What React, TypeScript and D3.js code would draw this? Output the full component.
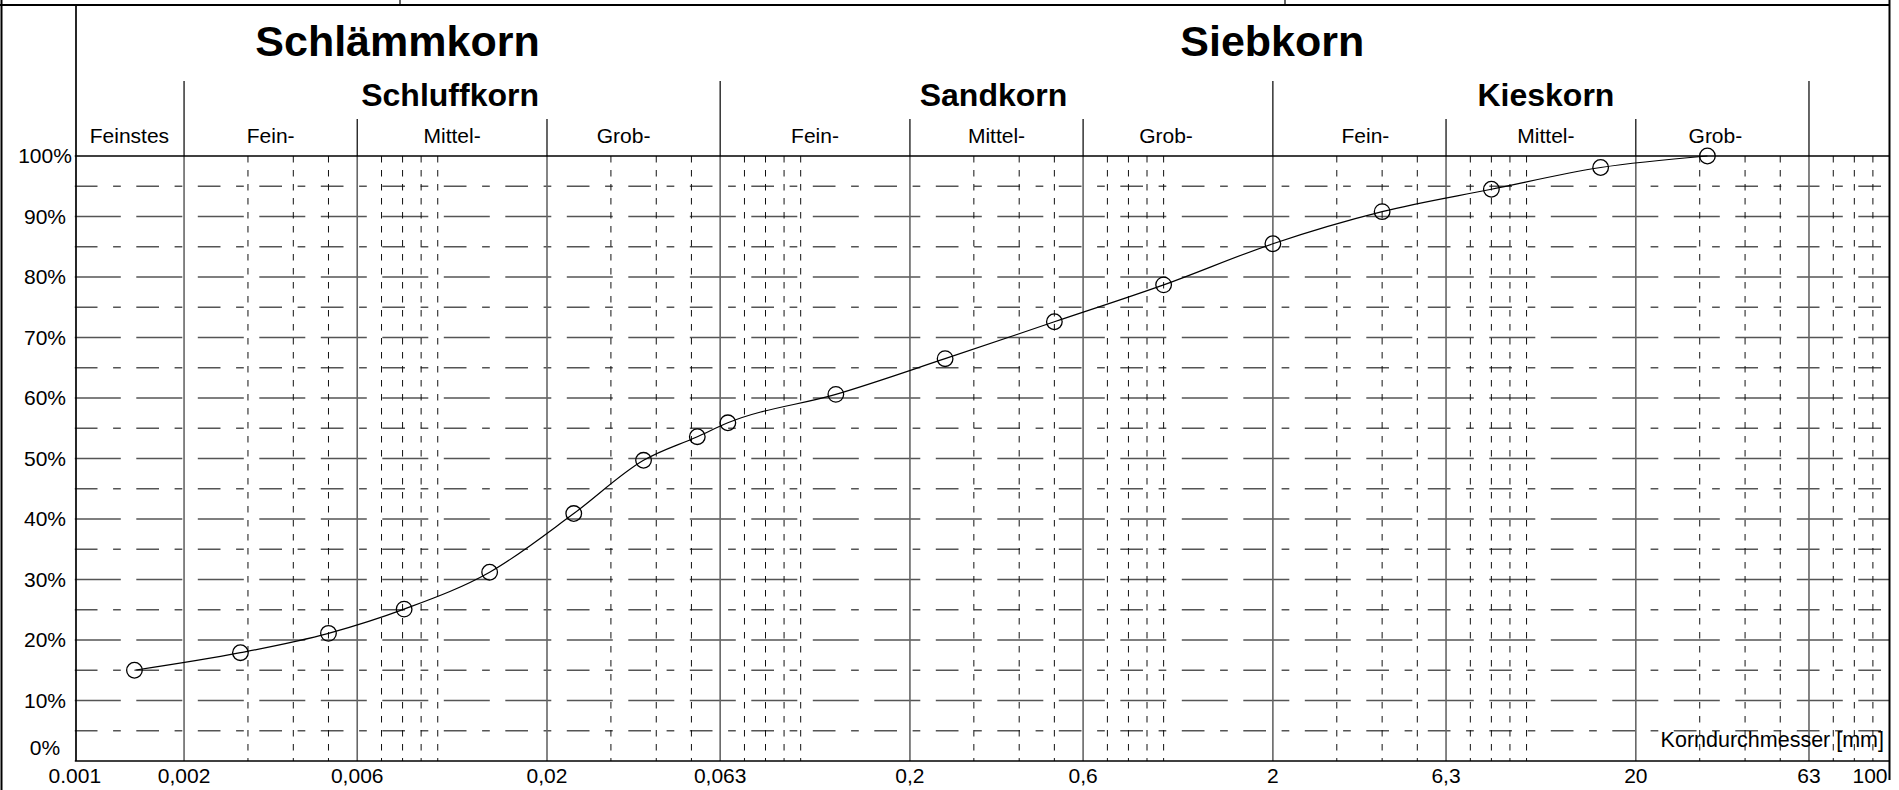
import React from "react";
import * as d3 from "d3";

// ---- data ----
const grainSize = [0.00146, 0.00286, 0.005, 0.00808, 0.0139, 0.0237, 0.0369, 0.0519, 0.063, 0.125, 0.25, 0.5, 1, 2, 4, 8, 16, 31.5];
const passing = [15.0, 17.9, 21.1, 25.1, 31.2, 40.9, 49.7, 53.6, 55.9, 60.6, 66.5, 72.6, 78.7, 85.5, 90.8, 94.5, 98.1, 100];

const xTickValues = [0.001, 0.002, 0.006, 0.02, 0.06, 0.2, 0.6, 2, 6, 20, 60, 100];
const xTickLabels = ["0.001", "0,002", "0,006", "0,02", "0,063", "0,2", "0,6", "2", "6,3", "20", "63", "100"];
const xMajorLines = [0.002, 0.006, 0.02, 0.06, 0.2, 0.6, 2, 6, 20, 60];
const minorDecades = [0.001, 0.01, 0.1, 1, 10];
const minorMultipliers = [3, 4, 5, 7, 8, 9, 10];

const yMajor = [10, 20, 30, 40, 50, 60, 70, 80, 90];
const yHalf = [5, 15, 25, 35, 45, 55, 65, 75, 85, 95];
const yLabelValues = [0, 10, 20, 30, 40, 50, 60, 70, 80, 90, 100];

const level1 = [
  { label: "Schlämmkorn", from: 0.001, to: 0.06 },
  { label: "Siebkorn", from: 0.063, to: 63 },
];
const level2 = [
  { label: "Schluffkorn", from: 0.002, to: 0.06 },
  { label: "Sandkorn", from: 0.06, to: 2 },
  { label: "Kieskorn", from: 2, to: 60 },
];
const level2Dividers = [0.002, 0.06, 2, 60];
const level3 = [
  { label: "Feinstes", from: 0.001, to: 0.002 },
  { label: "Fein-", from: 0.002, to: 0.006 },
  { label: "Mittel-", from: 0.006, to: 0.02 },
  { label: "Grob-", from: 0.02, to: 0.06 },
  { label: "Fein-", from: 0.06, to: 0.2 },
  { label: "Mittel-", from: 0.2, to: 0.6 },
  { label: "Grob-", from: 0.6, to: 2 },
  { label: "Fein-", from: 2, to: 6 },
  { label: "Mittel-", from: 6, to: 20 },
  { label: "Grob-", from: 20, to: 60 },
];
const level3Dividers = [0.006, 0.02, 0.2, 0.6, 6, 20];
const xAxisTitle = "Korndurchmesser [mm]";

// ---- layout ----
const W = 1899;
const H = 790;
const L = 74.8;
const R = 1889.5;
const TOP = 5;
const Y100 = 156;
const Y0 = 761;
const FONT = "'Liberation Sans', Arial, Helvetica, sans-serif";
// small horizontal nudges of the header rows (px)
const level3Nudge = [0, 0, 0, -10, 0, 0, -12, 6, 5, -7];
const level2Nudge = [-2, -3, 5];

export default function App() {
  const x = d3.scaleLog().domain([0.001, 100]).range([L, R]);
  const y = d3.scaleLinear().domain([0, 100]).range([Y0, Y100]);

  const minor: number[] = [];
  minorDecades.forEach((d) =>
    minorMultipliers.forEach((m) => {
      const v = +(d * m).toPrecision(6);
      if (v < 100) minor.push(v);
    })
  );

  const pts: [number, number][] = grainSize.map((g, i) => [x(g), y(passing[i])]);
  const line = d3.line().curve(d3.curveMonotoneX)(pts) || "";

  const cx = (a: number, b: number) => (x(a) + x(b)) / 2;

  return (
    <svg
      width={W}
      height={H}
      style={{ position: "absolute", left: 0, top: 0, display: "block", background: "#fff" }}
      fontFamily={FONT}
    >
      <rect x={0} y={0} width={W} height={H} fill="#fff" />
      {/* horizontal grid */}
      {yMajor.map((v) => (
        <line key={"ym" + v} x1={L} x2={R} y1={y(v)} y2={y(v)} stroke="#555" strokeWidth={1.3}
          strokeDasharray="46,15.5" />
      ))}
      {yHalf.map((v) => (
        <line key={"yh" + v} x1={L} x2={R} y1={y(v)} y2={y(v)} stroke="#555" strokeWidth={1.3}
          strokeDasharray="22.7,15.6,7.7,15.5" />
      ))}
      {/* minor dashed verticals */}
      {minor.map((v) => (
        <line key={"mn" + v} x1={x(v)} x2={x(v)} y1={Y100} y2={Y0} stroke="#111" strokeWidth={1}
          strokeDasharray="6.5,7.5" />
      ))}
      {/* major verticals */}
      {xMajorLines.map((v) => (
        <line key={"mj" + v} x1={x(v)} x2={x(v)} y1={Y100} y2={Y0} stroke="#666" strokeWidth={1.6} />
      ))}

      {/* header dividers */}
      {level2Dividers.map((v) => (
        <line key={"d2" + v} x1={x(v)} x2={x(v)} y1={81} y2={Y100} stroke="#000" strokeWidth={1.2} />
      ))}
      {level3Dividers.map((v) => (
        <line key={"d3" + v} x1={x(v)} x2={x(v)} y1={119} y2={Y100} stroke="#000" strokeWidth={1.2} />
      ))}

      {/* plot frame */}
      <line x1={L} x2={R} y1={Y100} y2={Y100} stroke="#000" strokeWidth={1.5} />
      <line x1={L} x2={R} y1={Y0} y2={Y0} stroke="#000" strokeWidth={1.5} />
      <line x1={76} x2={76} y1={TOP} y2={Y0} stroke="#000" strokeWidth={1.7} />
      {/* outer frame */}
      <line x1={0} x2={R} y1={TOP} y2={TOP} stroke="#000" strokeWidth={2} />
      <line x1={1.5} x2={1.5} y1={0} y2={H} stroke="#000" strokeWidth={2} />
      <line x1={R} x2={R} y1={0} y2={780} stroke="#000" strokeWidth={2} />
      <line x1={400} x2={400} y1={0} y2={TOP} stroke="#000" strokeWidth={1.2} />
      <line x1={1285} x2={1285} y1={0} y2={TOP} stroke="#000" strokeWidth={1.2} />

      {/* header texts */}
      {level1.map((g) => (
        <text key={g.label} x={cx(g.from, g.to)} y={56} textAnchor="middle" fontSize={43} fontWeight="bold">
          {g.label}
        </text>
      ))}
      {level2.map((g, i) => (
        <text key={g.label} x={cx(g.from, g.to) + level2Nudge[i]} y={106} textAnchor="middle" fontSize={32}
          fontWeight="bold">
          {g.label}
        </text>
      ))}
      {level3.map((g, i) => (
        <text key={"l3" + i} x={cx(g.from, g.to) + level3Nudge[i]} y={143} textAnchor="middle" fontSize={21}>
          {g.label}
        </text>
      ))}

      {/* y labels */}
      {yLabelValues.map((v) => (
        <text key={"yl" + v} x={45} y={v === 0 ? Y0 - 6 : y(v) + 7} textAnchor="middle" fontSize={21}>
          {v + "%"}
        </text>
      ))}
      {/* x labels */}
      {xTickValues.map((v, i) => (
        <text key={"xl" + v} x={v === 100 ? x(v) - 2 : x(v)} y={783}
          textAnchor={v === 100 ? "end" : "middle"} fontSize={21}>
          {xTickLabels[i]}
        </text>
      ))}
      <text x={1884} y={747} textAnchor="end" fontSize={21.5}>{xAxisTitle}</text>

      {/* data */}
      <path d={line} fill="none" stroke="#000" strokeWidth={1.2} />
      {pts.map((p, i) => (
        <circle key={"pt" + i} cx={p[0]} cy={p[1]} r={7.8} fill="none" stroke="#000" strokeWidth={1.3} />
      ))}
    </svg>
  );
}
